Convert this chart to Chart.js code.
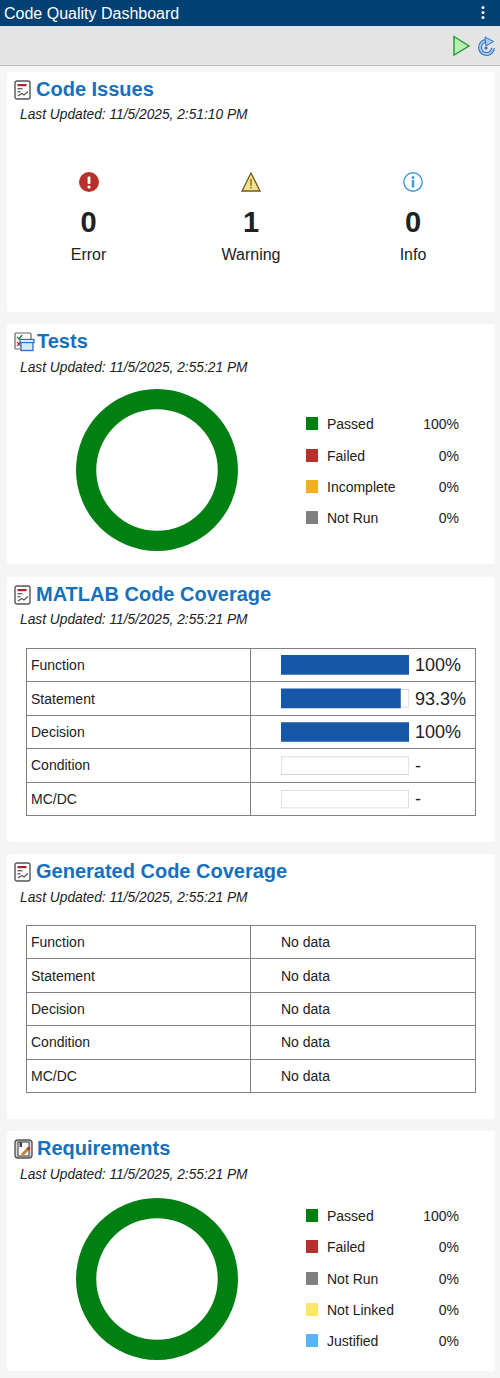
<!DOCTYPE html>
<html>
<head>
<meta charset="utf-8">
<title>Code Quality Dashboard</title>
<script src="https://cdn.jsdelivr.net/npm/chart.js@4"></script>
<style>
html, body { margin: 0; padding: 0; }
body { width: 500px; height: 1378px; background: #f5f5f5; position: relative; overflow: hidden;
  font-family: "Liberation Sans", Arial, sans-serif; color: #212121; font-size: 14px; }
.abs { position: absolute; white-space: nowrap; }
.titlebar { left: 0; top: 0; width: 500px; height: 26px; background: #004073; color: #fff; font-size: 16px; line-height: 27px; }
.toolbar { left: 0; top: 26px; width: 500px; height: 39px; background: #e4e4e4; border-bottom: 1px solid #bdbdbd; }
.card { left: 7px; width: 488px; background: #fff; border-radius: 3px; }
.heading { font-size: 20px; font-weight: bold; color: #1570bd; line-height: 24px; }
.updated { font-style: italic; font-size: 13.75px; line-height: 16px; left: 20px; }
.stat { text-align: center; width: 120px; }
.num { font-size: 29px; font-weight: bold; line-height: 32px; }
.lab { font-size: 16px; line-height: 20px; }
table { position: absolute; left: 26px; width: 450px; height: 168px; border-collapse: collapse; table-layout: fixed; }
td { border: 1px solid #808080; padding: 0 0 0 4px; box-sizing: border-box; }
td.val { padding-left: 30px; }
.pct { font-size: 18px; line-height: 20px; }
.swatch { width: 12px; height: 13px; left: 306px; }
canvas { position: absolute; }
</style>
</head>
<body>
<div class="abs titlebar"><span style="margin-left:4px">Code Quality Dashboard</span></div>
<svg class="abs" style="left:480px;top:5px" width="6" height="16"><circle cx="3" cy="2.5" r="1.5" fill="#fff"/><circle cx="3" cy="7.5" r="1.5" fill="#fff"/><circle cx="3" cy="12.5" r="1.5" fill="#fff"/></svg>
<div class="abs toolbar"></div>
<svg class="abs" style="left:450px;top:34px" width="48" height="24">
  <path d="M4 2.5 L19 12 L4 21 Z" fill="#b9f0b0" stroke="#1f9a36" stroke-width="1.4"/>
  <path d="M43 14 A6.5 6.5 0 1 1 36 7" fill="none" stroke="#2d6fc4" stroke-width="4"/>
  <path d="M43 14 A6.5 6.5 0 1 1 36 7" fill="none" stroke="#a9cdf2" stroke-width="1.8"/>
  <path d="M35 3 L43.5 7.5 L36 12 Z" fill="#a9cdf2" stroke="#2d6fc4" stroke-width="1"/>
  <circle cx="36" cy="14" r="1.6" fill="#2d6fc4"/>
</svg>

<div id="cards"></div>

<canvas id="testsDonut" width="170" height="170" style="left:71.5px;top:384.5px;width:170px;height:170px"></canvas>
<canvas id="matlabBars" width="128" height="168" style="left:281px;top:648px;width:128px;height:168px"></canvas>
<canvas id="reqDonut" width="170" height="170" style="left:71.5px;top:1193.5px;width:170px;height:170px"></canvas>

<script>
const issueLabels = ['Error', 'Warning', 'Info'];
const issueCounts = [0, 1, 0];

const testLabels = ['Passed', 'Failed', 'Incomplete', 'Not Run'];
const testValues = [100, 0, 0, 0];
const testColors = ['#008013', '#b7312c', '#edb120', '#808080'];

const coverageLabels = ['Function', 'Statement', 'Decision', 'Condition', 'MC/DC'];
const matlabCoverage = [100, 93.3, 100, null, null];
const matlabTrack = [100, 100, 100, 100, 100];
const matlabText = ['100%', '93.3%', '100%', '-', '-'];
const generatedText = ['No data', 'No data', 'No data', 'No data', 'No data'];

const reqLabels = ['Passed', 'Failed', 'Not Run', 'Not Linked', 'Justified'];
const reqValues = [100, 0, 0, 0, 0];
const reqColors = ['#008013', '#b7312c', '#808080', '#ffe666', '#59b4ff'];

const cardsEl = document.getElementById('cards');

function addHtml(html) {
    cardsEl.insertAdjacentHTML('beforeend', html);
}

const reportIcon = `<rect x="1" y="1" width="15" height="18" rx="2" fill="#fff" stroke="#555" stroke-width="1.4"/>
  <rect x="3.5" y="4" width="9" height="2.2" fill="#a8252a"/><rect x="3.5" y="8" width="5" height="1.4" fill="#666"/>
  <rect x="3.5" y="11" width="3" height="1.4" fill="#666"/><path d="M4 16 L8 13.5 L10 15 L14 11.5" fill="none" stroke="#555" stroke-width="1.2"/>`;
const testsIcon = `<rect x="1" y="1" width="16" height="16" rx="1" fill="#fff" stroke="#666" stroke-width="1.2"/>
  <path d="M3 5 L5 7 L8 3" fill="none" stroke="#1a8a2e" stroke-width="1.4"/><path d="M3 10 L7 14 M7 10 L3 14" stroke="#b7312c" stroke-width="1.2"/>
  <rect x="7" y="8.5" width="12" height="10" fill="#d8e8f8" stroke="#2d6fc4" stroke-width="1.3"/><rect x="6" y="7.5" width="14" height="3" fill="#fff" stroke="#2d6fc4" stroke-width="1.3"/>`;
const reqIcon = `<rect x="1" y="1" width="17" height="18" rx="3" fill="#d9d9d9" stroke="#555" stroke-width="1.4"/>
  <rect x="4" y="3" width="11" height="14" fill="#fff" stroke="#333" stroke-width="1"/><rect x="5.5" y="3" width="2.5" height="5" fill="#444"/>
  <path d="M8 16 L15 9" stroke="#c9832a" stroke-width="3"/><path d="M13.5 10.5 L15.5 8.5" stroke="#b7312c" stroke-width="3"/>`;

function addCard(top, height, title, titleX, updated, icon, iconW, updatedY, titleY) {
    addHtml(`<div class="abs card" style="top:${top}px;height:${height}px"></div>
      <svg class="abs" style="left:14px;top:${top + 8}px" width="${iconW}" height="21">${icon}</svg>
      <div class="abs heading" style="left:${titleX}px;top:${top + titleY}px">${title}</div>
      <div class="abs updated" style="top:${top + updatedY}px">Last Updated: ${updated}</div>`);
}

addCard(72, 240, 'Code Issues', 36, '11/5/2025, 2:51:10 PM', reportIcon, 18, 35, 5);
addCard(324, 240, 'Tests', 37, '11/5/2025, 2:55:21 PM', testsIcon, 21, 36, 5);
addCard(577, 265, 'MATLAB Code Coverage', 36, '11/5/2025, 2:55:21 PM', reportIcon, 18, 35, 5);
addCard(854, 265, 'Generated Code Coverage', 36, '11/5/2025, 2:55:21 PM', reportIcon, 18, 36, 5);
addCard(1131, 240, 'Requirements', 37, '11/5/2025, 2:55:21 PM', reqIcon, 20, 36, 5);

// issue counters
const issueIcons = [
    `<circle cx="11" cy="10" r="10" fill="#b7312c"/><rect x="9.6" y="4.5" width="2.8" height="7.5" rx="1" fill="#fff"/><circle cx="11" cy="15" r="1.6" fill="#fff"/>`,
    `<path d="M11 1 L20 19 L2 19 Z" fill="#f7e08a" stroke="#6d5a24" stroke-width="1.3"/><rect x="10.4" y="7" width="1.2" height="7" fill="#6d5a24"/><rect x="10.4" y="15" width="1.2" height="1.5" fill="#6d5a24"/>`,
    `<circle cx="11" cy="10" r="9.2" fill="#fff" stroke="#3c97e6" stroke-width="1.4"/><rect x="9.8" y="8" width="2.4" height="7.5" fill="#3c97e6"/><circle cx="11" cy="5.4" r="1.5" fill="#3c97e6"/>`
];
const issueX = [88.5, 251, 413];
issueLabels.forEach((label, i) => {
    const x = issueX[i];
    addHtml(`<svg class="abs" style="left:${x - 11}px;top:172px" width="22" height="21">${issueIcons[i]}</svg>
      <div class="abs stat num" style="left:${x - 60}px;top:206px">${issueCounts[i]}</div>
      <div class="abs stat lab" style="left:${x - 60}px;top:245px">${label}</div>`);
});

function addLegend(labels, values, colors, rowY) {
    labels.forEach((label, i) => {
        addHtml(`<div class="abs swatch" style="top:${rowY[i] - 7}px;background:${colors[i]}"></div>
          <div class="abs" style="left:327px;top:${rowY[i] - 8}px;line-height:16px">${label}</div>
          <div class="abs" style="left:399px;width:60px;text-align:right;top:${rowY[i] - 8}px;line-height:16px">${values[i]}%</div>`);
    });
}
addLegend(testLabels, testValues, testColors, [424, 455.5, 487, 518]);
addLegend(reqLabels, reqValues, reqColors, [1216, 1247, 1279, 1310, 1341]);

function addTable(top, rightCell) {
    const rows = coverageLabels.map((label, i) =>
        `<tr><td style="width:224px">${label}</td><td class="val">${rightCell(i)}</td></tr>`).join('');
    addHtml(`<table style="top:${top}px">${rows}</table>`);
}
addTable(648, () => '');
addTable(925, i => generatedText[i]);
matlabText.forEach((text, i) => {
    addHtml(`<div class="abs pct" style="left:415px;top:${655 + i * 33.5}px">${text}</div>`);
});

function makeDonut(id, labels, values, colors) {
    new Chart(document.getElementById(id), {
        type: 'doughnut',
        data: { labels: labels, datasets: [{ data: values, backgroundColor: colors, borderWidth: 0 }] },
        options: {
            responsive: false,
            animation: false,
            cutout: '75%',
            radius: 81,
            layout: { padding: 0 },
            plugins: { legend: { display: false }, tooltip: { enabled: false } }
        }
    });
}
makeDonut('testsDonut', testLabels, testValues, testColors);
makeDonut('reqDonut', reqLabels, reqValues, reqColors);

new Chart(document.getElementById('matlabBars'), {
    type: 'bar',
    data: {
        labels: coverageLabels,
        datasets: [
            { data: matlabCoverage, backgroundColor: '#1558a8', barThickness: 19, grouped: false, order: 1 },
            { data: matlabTrack, backgroundColor: '#ffffff', borderColor: '#d2d2d2', borderWidth: 1,
              borderSkipped: false, barThickness: 18, grouped: false, order: 2 }
        ]
    },
    options: {
        indexAxis: 'y',
        responsive: false,
        animation: false,
        layout: { padding: 0 },
        scales: {
            x: { display: false, min: 0, max: 100 },
            y: { display: false }
        },
        plugins: { legend: { display: false }, tooltip: { enabled: false } }
    }
});
</script>
</body>
</html>
